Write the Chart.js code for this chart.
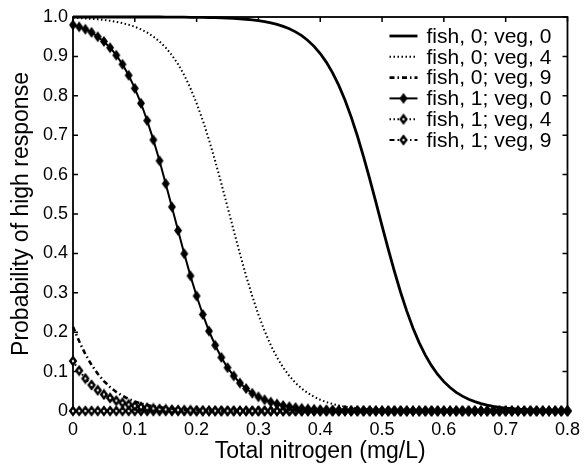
<!DOCTYPE html>
<html><head><meta charset="utf-8">
<script src="https://cdn.jsdelivr.net/npm/chart.js@4/dist/chart.umd.min.js"></script>
<style>html,body{margin:0;padding:0;background:#fff;}canvas{display:block;}</style>
</head><body>
<canvas id="c" width="588" height="465"></canvas>
<script>
// ---- data ----
const nitrogen = [0.00,0.01,0.02,0.03,0.04,0.05,0.06,0.07,0.08,0.09,
  0.10,0.11,0.12,0.13,0.14,0.15,0.16,0.17,0.18,0.19,
  0.20,0.21,0.22,0.23,0.24,0.25,0.26,0.27,0.28,0.29,
  0.30,0.31,0.32,0.33,0.34,0.35,0.36,0.37,0.38,0.39,
  0.40,0.41,0.42,0.43,0.44,0.45,0.46,0.47,0.48,0.49,
  0.50,0.51,0.52,0.53,0.54,0.55,0.56,0.57,0.58,0.59,
  0.60,0.61,0.62,0.63,0.64,0.65,0.66,0.67,0.68,0.69,
  0.70,0.71,0.72,0.73,0.74,0.75,0.76,0.77,0.78,0.79,0.80];

const fish0veg0 = [1.000,1.000,1.000,1.000,1.000,1.000,1.000,1.000,1.000,1.000,
  1.000,1.000,1.000,1.000,1.000,0.9997,0.9997,0.9996,0.9995,0.9993,
  0.9992,0.9989,0.9986,0.9983,0.9978,0.9972,0.9965,0.9955,0.9943,0.9928,
  0.9908,0.9883,0.9852,0.9813,0.9763,0.9701,0.9623,0.9526,0.9405,0.9255,
  0.9072,0.8849,0.8581,0.8264,0.7892,0.7465,0.6985,0.6457,0.5890,0.5300,
  0.4700,0.4110,0.3543,0.3015,0.2535,0.2108,0.1736,0.1419,0.1151,0.0928,
  0.0745,0.0595,0.0474,0.0377,0.0299,0.0237,0.0187,0.0148,0.0117,0.0092,
  0.0072,0.0057,0.0045,0.0035,0.0028,0.0022,0.0017,0.0014,0.0011,0.0008,0.0007];

const fish0veg4 = [0.9977,0.9971,0.9963,0.9953,0.9940,0.9924,0.9904,0.9878,0.9845,0.9804,
  0.9752,0.9687,0.9605,0.9504,0.9378,0.9222,0.9031,0.8800,0.8522,0.8193,
  0.7811,0.7373,0.6883,0.6346,0.5774,0.5180,0.4581,0.3994,0.3434,0.2915,
  0.2445,0.2030,0.1669,0.1361,0.1103,0.0888,0.0712,0.0569,0.0453,0.0360,
  0.0285,0.0226,0.0178,0.0141,0.0111,0.0088,0.0069,0.0054,0.0043,0.0034,
  0.0027,0.0021,0.0017,0.0013,0.0010,0.0008,0.0006,0.0005,0.0004,0.0003,
  0.0002,0.0002,0.0002,0.0002,0.0002,0.0001,0.0001,0.0001,0.0001,0.0001,
  0.0001,0.0001,0.0001,0,0,0,0,0,0,0,0];

const fish0veg9 = [0.214,0.177,0.144,0.117,0.0945,0.0759,0.0607,0.0483,0.0384,0.0305,
  0.0241,0.0191,0.0151,0.0119,0.0094,0.0074,0.0058,0.0046,0.0036,0.0028,
  0.0022,0.0018,0.0014,0.0011,0.0009,0.0007,0.0005,0.0004,0.0003,0.0002,
  0.0002,0.0001,0.0001,0.0001,0,0,0,0,0,0,
  0,0,0,0,0,0,0,0,0,0,
  0,0,0,0,0,0,0,0,0,0,
  0,0,0,0,0,0,0,0,0,0,
  0,0,0,0,0,0,0,0,0,0,0];

const fish1veg0 = [0.980,0.975,0.969,0.961,0.950,0.938,0.922,0.903,0.880,0.852,
  0.819,0.781,0.737,0.688,0.635,0.577,0.518,0.458,0.399,0.343,
  0.292,0.245,0.203,0.167,0.136,0.110,0.089,0.071,0.057,0.045,
  0.036,0.0285,0.0226,0.0178,0.0141,0.0111,0.0088,0.0069,0.0054,0.0043,
  0.0034,0.0027,0.0021,0.0017,0.0013,0.0010,0.0008,0.0006,0.0005,0.0004,
  0.0003,0.0002,0.0002,0.0002,0.0001,0.0001,0.0001,0.0001,0,0,
  0,0,0,0,0,0,0,0,0,0,
  0,0,0,0,0,0,0,0,0,0,0];

const fish1veg4 = [0.1268,0.1025,0.0824,0.0660,0.0527,0.0419,0.0332,0.0263,0.0208,0.0165,
  0.0130,0.0103,0.0081,0.0064,0.0050,0.0040,0.0031,0.0025,0.0019,0.0015,
  0.0012,0.0009,0.0007,0.0006,0.0005,0.0004,0.0003,0.0002,0.0002,0.0001,
  0.0001,0,0,0,0,0,0,0,0,0,
  0,0,0,0,0,0,0,0,0,0,
  0,0,0,0,0,0,0,0,0,0,
  0,0,0,0,0,0,0,0,0,0,
  0,0,0,0,0,0,0,0,0,0,0];

const fish1veg9 = [0.0001,0.0001,0.0001,0.0001,0,0,0,0,0,0,
  0,0,0,0,0,0,0,0,0,0,
  0,0,0,0,0,0,0,0,0,0,
  0,0,0,0,0,0,0,0,0,0,
  0,0,0,0,0,0,0,0,0,0,
  0,0,0,0,0,0,0,0,0,0,
  0,0,0,0,0,0,0,0,0,0,
  0,0,0,0,0,0,0,0,0,0,0];

const seriesLabels = ['fish, 0; veg, 0','fish, 0; veg, 4','fish, 0; veg, 9',
                      'fish, 1; veg, 0','fish, 1; veg, 4','fish, 1; veg, 9'];
const xTickLabels = ['0','0.1','0.2','0.3','0.4','0.5','0.6','0.7','0.8'];
const yTickLabels = ['0','0.1','0.2','0.3','0.4','0.5','0.6','0.7','0.8','0.9','1.0'];
const xTitle = 'Total nitrogen (mg/L)';
const yTitle = 'Probability of high response';

// ---- marker images ----
function diamond(w, h, filled, lw) {
  const c = document.createElement('canvas');
  c.width = w + 2; c.height = h + 2;
  const g = c.getContext('2d');
  const cx = c.width / 2, cy = c.height / 2;
  const hw = filled ? w / 2 : w / 2 - lw / 2, hh = filled ? h / 2 : h / 2 - lw / 2;
  g.beginPath();
  g.moveTo(cx, cy - hh); g.lineTo(cx + hw, cy); g.lineTo(cx, cy + hh); g.lineTo(cx - hw, cy); g.closePath();
  if (filled) { g.fillStyle = '#000'; g.fill(); }
  else { g.fillStyle = '#fff'; g.fill(); g.lineWidth = lw; g.strokeStyle = '#000'; g.stroke(); }
  return c;
}
const filledDiamond = diamond(8, 11, true, 0);
const hollowDiamond = diamond(8, 10, false, 2.4);

const DOT = [1.5, 2.5];
const DASHDOT = [5, 3, 1.5, 3];

function series(vals) { return nitrogen.map((x, i) => ({ x: x, y: vals[i] })); }

const styles = [
  { data: fish0veg0, borderWidth: 2.8, borderDash: [], marker: null, order: 1 },
  { data: fish0veg4, borderWidth: 2, borderDash: DOT, marker: null, order: 2 },
  { data: fish0veg9, borderWidth: 2.6, borderDash: DASHDOT, marker: null, order: 3 },
  { data: fish1veg0, borderWidth: 2, borderDash: [], marker: filledDiamond, order: 0 },
  { data: fish1veg4, borderWidth: 2, borderDash: DOT, marker: hollowDiamond, order: 4 },
  { data: fish1veg9, borderWidth: 2.2, borderDash: DASHDOT, marker: hollowDiamond, order: 5 }
];

const datasets = styles.map((s, i) => ({
  label: seriesLabels[i],
  data: series(s.data),
  order: s.order,
  borderColor: '#000',
  backgroundColor: '#000',
  borderWidth: s.borderWidth,
  borderDash: s.borderDash,
  borderCapStyle: 'butt',
  fill: false,
  tension: 0,
  clip: false,
  pointStyle: s.marker || 'circle',
  pointRadius: s.marker ? 4 : 0,
  pointHoverRadius: s.marker ? 4 : 0
}));

const framePlugin = {
  id: 'frame',
  beforeDatasetsDraw(chart) {
    const { ctx, chartArea: a, scales: { x, y } } = chart;
    ctx.save();
    ctx.strokeStyle = '#000';
    ctx.lineWidth = 1.8;
    ctx.setLineDash([]);
    ctx.strokeRect(a.left, a.top, a.right - a.left, a.bottom - a.top);
    const tl = 5;
    ctx.lineWidth = 1.5;
    ctx.beginPath();
    x.ticks.forEach(t => {
      const px = x.getPixelForValue(t.value);
      ctx.moveTo(px, a.top); ctx.lineTo(px, a.top + tl);
      ctx.moveTo(px, a.bottom); ctx.lineTo(px, a.bottom - tl);
    });
    y.ticks.forEach(t => {
      const py = y.getPixelForValue(t.value);
      ctx.moveTo(a.left, py); ctx.lineTo(a.left + tl, py);
      ctx.moveTo(a.right, py); ctx.lineTo(a.right - tl, py);
    });
    ctx.stroke();
    ctx.restore();
  }
};

const legendPlugin = {
  id: 'inlegend',
  afterDraw(chart) {
    const { ctx, chartArea: a } = chart;
    const x0 = a.right - 178, lineLen = 28, y0 = a.top + 19, dy = 20.8;
    chart.data.datasets.forEach((ds, i) => {
      const yy = y0 + i * dy;
      ctx.save();
      ctx.strokeStyle = '#000';
      ctx.lineWidth = ds.borderWidth;
      ctx.lineCap = 'butt';
      ctx.setLineDash(ds.borderDash || []);
      ctx.beginPath(); ctx.moveTo(x0, yy); ctx.lineTo(x0 + lineLen, yy); ctx.stroke();
      ctx.setLineDash([]);
      if (ds.pointRadius > 0 && ds.pointStyle instanceof HTMLCanvasElement) {
        const m = ds.pointStyle;
        ctx.drawImage(m, x0 + lineLen / 2 - m.width / 2, yy - m.height / 2);
      }
      ctx.fillStyle = '#000';
      ctx.font = '21px "Liberation Sans", Arial, sans-serif';
      ctx.textBaseline = 'middle';
      ctx.textAlign = 'left';
      ctx.fillText(ds.label, x0 + lineLen + 9, yy + 1);
      ctx.restore();
    });
  }
};

Chart.defaults.font.family = '"Liberation Sans", Arial, sans-serif';
Chart.defaults.color = '#000';

new Chart(document.getElementById('c'), {
  type: 'line',
  data: { datasets: datasets },
  options: {
    responsive: false,
    animation: false,
    events: [],
    layout: { padding: { top: 17, right: 15, left: 0, bottom: 0 } },
    plugins: { legend: { display: false }, tooltip: { enabled: false } },
    scales: {
      x: {
        type: 'linear', min: 0, max: 0.8, position: 'bottom',
        grid: { display: false, drawTicks: false }, border: { display: false },
        ticks: { stepSize: 0.1, padding: 8, font: { size: 18 }, color: '#000', maxRotation: 0, autoSkip: false,
                 callback: v => xTickLabels[Math.round(v * 10)] },
        title: { display: true, text: xTitle, font: { size: 23, lineHeight: 1 }, color: '#000', padding: { top: 0, bottom: 2 } },
        afterFit(s) { s.height = 54; }
      },
      y: {
        type: 'linear', min: 0, max: 1,
        grid: { display: false, drawTicks: false }, border: { display: false },
        ticks: { stepSize: 0.1, padding: 5, font: { size: 18 }, color: '#000',
                 callback: v => yTickLabels[Math.round(v * 10)] },
        title: { display: true, text: yTitle, font: { size: 23, lineHeight: 1 }, color: '#000', padding: { top: 10, bottom: 0 } },
        afterFit(s) { s.width = 73; }
      }
    }
  },
  plugins: [framePlugin, legendPlugin]
});
</script>
</body></html>
